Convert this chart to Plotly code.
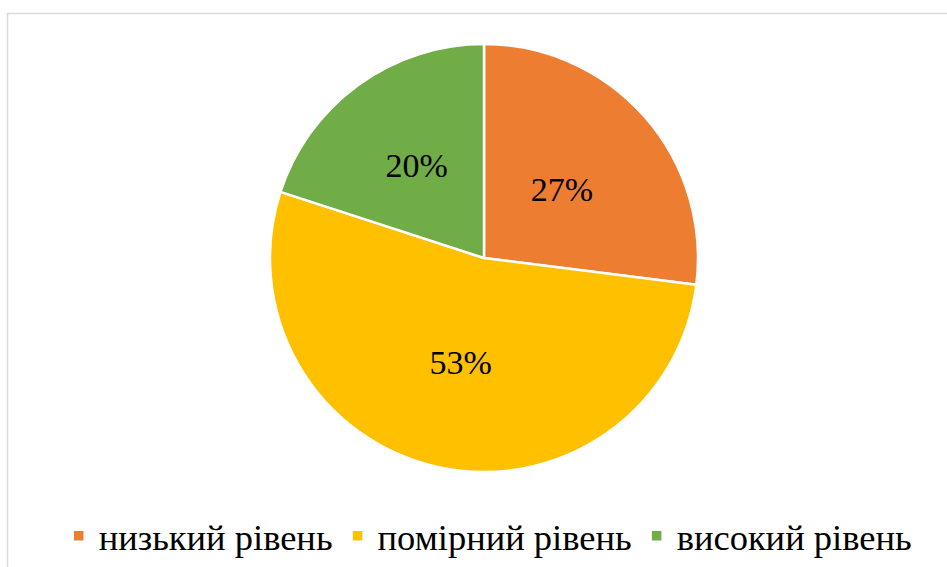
import plotly.graph_objects as go

labels = ["низький рівень", "помірний рівень", "високий рівень"]
values = [27, 53, 20]
colors = ["#ED7D31", "#FFC000", "#70AD47"]

W, H = 947, 567
cx, cy, r = 484, 258, 214
FONT = "Liberation Serif"


def dom(rad):
    return dict(x=[(cx - rad) / W, (cx + rad) / W], y=[1 - (cy + rad) / H, 1 - (cy - rad) / H])


common = dict(labels=labels, values=values, sort=False, direction="clockwise", rotation=0,
              textposition="inside", insidetextorientation="horizontal",
              textfont=dict(family=FONT, size=34, color="black"),
              hoverinfo="label+percent")

# main pie: draws slices and the label of the big slice
fig = go.Figure(go.Pie(
    **common,
    marker=dict(colors=colors, line=dict(color="white", width=2.5)),
    texttemplate=["", "%{percent:.0%}", ""],
    domain=dom(r),
))
# transparent inner pie: carries the labels of the smaller slices closer to the centre
fig.add_trace(go.Pie(
    **common,
    marker=dict(colors=["rgba(0,0,0,0)"] * 3, line=dict(width=0)),
    texttemplate=["%{percent:.0%}", "", "%{percent:.0%}"],
    domain=dom(r * 0.85),
    showlegend=False,
))

fig.update_layout(
    width=W, height=H,
    margin=dict(l=0, r=0, t=0, b=0),
    paper_bgcolor="white",
    plot_bgcolor="white",
    font=dict(family=FONT),
    showlegend=True,
    legend=dict(
        orientation="h",
        x=0.515, xanchor="center",
        y=1 - 536 / H, yanchor="middle",
        font=dict(family=FONT, size=36.5, color="black"),
        itemwidth=30,
        tracegroupgap=0,
    ),
    shapes=[dict(type="rect", xref="paper", yref="paper",
                 x0=7.5 / W, x1=1.05, y0=-0.05, y1=1 - 13.5 / H,
                 line=dict(color="#D9D9D9", width=1.5), fillcolor="rgba(0,0,0,0)", layer="below")],
)

fig.write_html("out.html", config={"displayModeBar": False},
               post_script="document.body.style.margin='0';document.body.style.overflow='hidden';")
